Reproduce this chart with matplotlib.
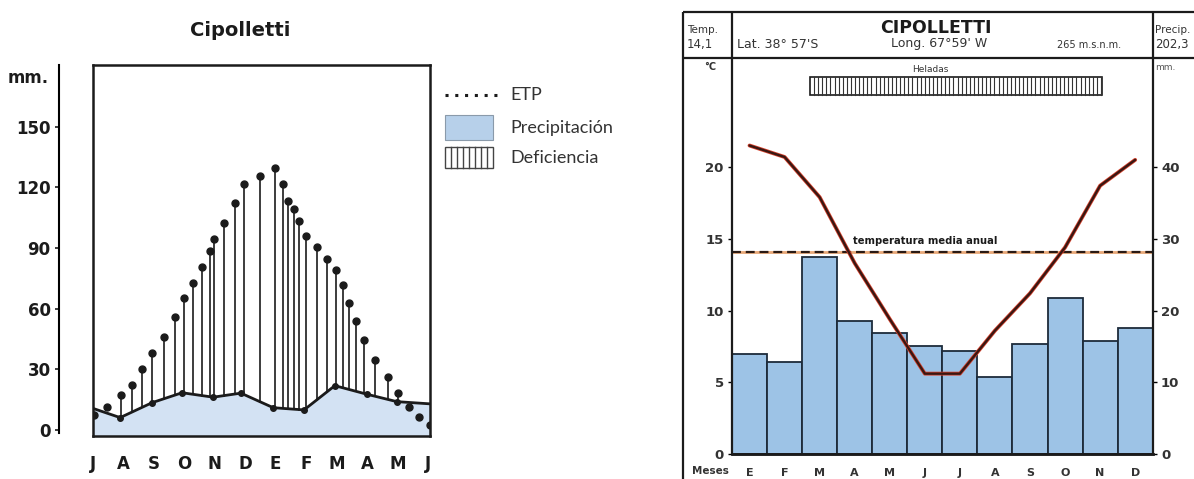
import matplotlib
matplotlib.use("Agg")
import matplotlib.pyplot as plt
from matplotlib.patches import Rectangle
import numpy as np

plt.rcParams.update({
    "font.family": ["DejaVu Sans"],
    "axes.linewidth": 1.5,
})

W, H = 1194, 479

# ---------------------------------------------------------------------------
# datos: balance hídrico (izquierda)
# ---------------------------------------------------------------------------
meses_jul = ["J", "A", "S", "O", "N", "D", "E", "F", "M", "A", "M", "J"]
etp_x = [0.04, 0.46, 0.92, 1.28, 1.63, 1.93, 2.34, 2.70, 2.99, 3.30, 3.59, 3.85,
         3.98, 4.31, 4.67, 4.96, 5.49, 5.98, 6.23, 6.41, 6.60, 6.77, 6.99, 7.34,
         7.69, 7.97, 8.20, 8.41, 8.62, 8.90, 9.26, 9.67, 10.02, 10.37, 10.70, 11.06]
etp_mm = [7.4, 11.2, 17.3, 22.3, 30.0, 38.2, 45.8, 55.7, 65.4, 72.9, 80.8, 88.7,
          94.3, 102.5, 112.1, 121.5, 125.6, 129.4, 121.5, 113.3, 109.2, 103.4, 95.9, 90.4,
          84.6, 79.1, 71.7, 63.0, 53.9, 44.5, 34.6, 26.4, 18.5, 11.5, 6.6, 2.5]
prec_x = [0, 0.9, 1.95, 2.93, 3.95, 4.86, 5.92, 6.93, 7.94, 8.98, 9.97, 11.06]
prec_mm = [10.7, 6.1, 13.5, 18.4, 16.2, 18.2, 11.0, 9.9, 21.9, 17.7, 14.0, 12.9]

# ---------------------------------------------------------------------------
# datos: climograma (derecha)
# ---------------------------------------------------------------------------
meses_ene = ["E", "F", "M", "A", "M", "J", "J", "A", "S", "O", "N", "D"]
precip_mes = [14.0, 12.8, 27.4, 18.5, 16.9, 15.1, 14.3, 10.7, 15.3, 21.8, 15.8, 17.5]
temp_mes = [21.5, 20.7, 17.9, 13.3, 9.4, 5.6, 5.6, 8.6, 11.2, 14.4, 18.7, 20.5]
temp_media = 14.1
precip_total = 202.3

BAR_BLUE = "#9dc3e6"
FILL_BLUE = "#d3e2f3"
INK = "#1b1b1b"
GREY_TXT = "#333333"


def fx(px):
    return px / W


def fy(py):
    return 1 - py / H


fig = plt.figure(figsize=(W / 100, H / 100), dpi=100)

# ---- panel izquierdo ----
ax_l = fig.add_axes([fx(92.7), fy(436), (430 - 92.7) / W, (436 - 65) / H])
ax_l.set_xlim(0, 11.06)
ax_l.set_ylim(-3, 180.5)
ax_l.fill_between(prec_x, -3, prec_mm, color=FILL_BLUE, lw=0, zorder=1)
ax_l.plot(prec_x, prec_mm, color=INK, lw=2, zorder=3)
ax_l.plot(prec_x[1:-1], prec_mm[1:-1], "o", color=INK, ms=4, zorder=3)

p_at_etp = np.interp(etp_x, prec_x, prec_mm)
for xe, ye, yp in zip(etp_x, etp_mm, p_at_etp):
    if ye - yp > 3:
        ax_l.plot([xe, xe], [yp, ye], color=INK, lw=1.2, zorder=2)
ax_l.plot(etp_x, etp_mm, "o", color=INK, ms=5, zorder=4)

ax_l.set_yticks([])
ax_l.set_xticks(range(12))
ax_l.set_xticklabels(meses_jul, fontsize=12, fontweight="bold", color=INK)
ax_l.tick_params(axis="x", length=0, pad=14)
ax_l.set_xticks(range(1, 11), minor=True)
ax_l.tick_params(axis="x", which="minor", length=5, width=1.5, direction="out", color=INK)
for sp in ax_l.spines.values():
    sp.set_linewidth(1.8)
    sp.set_color(INK)

# eje y separado
ax_ly = fig.add_axes([fx(59), fy(433), 0.0005, (433 - 65) / H])
ax_ly.set_ylim(-1.5, 180.5)
ax_ly.set_xticks([])
ax_ly.set_yticks([0, 30, 60, 90, 120, 150])
ax_ly.set_yticklabels(["0", "30", "60", "90", "120", "150"], fontsize=12,
                      fontweight="bold", color=INK)
ax_ly.tick_params(axis="y", length=3, width=1.2, pad=3, color=INK)
for k in ["top", "right", "bottom"]:
    ax_ly.spines[k].set_visible(False)
ax_ly.spines["left"].set_linewidth(1.5)
ax_ly.patch.set_visible(False)

# ---- panel derecho ----
ax_r = fig.add_axes([fx(732), fy(454), (1152.7 - 732) / W, (454 - 58) / H])
ax_p = ax_r.twinx()
ax_r.set_zorder(ax_p.get_zorder() + 1)
ax_r.patch.set_visible(False)

ax_r.set_xlim(-0.5, 11.5)
ax_r.set_ylim(0, 27.6)
ax_p.set_ylim(0, 55.2)

x_m = np.arange(len(meses_ene))
ax_p.bar(x_m, precip_mes, width=1.0, color=BAR_BLUE, edgecolor="#1d2b3a", linewidth=1.3)

ax_r.axhline(temp_media, color="#e8a878", lw=2.0, zorder=2)
ax_r.axhline(temp_media, color="#2a1a14", lw=1.6, dashes=(4, 2.2), zorder=3)
ax_r.text(5.0, temp_media + 0.75, "temperatura media anual", ha="center", va="center",
          fontsize=7.2, fontweight="bold", color=INK)
ax_r.plot(x_m, temp_mes, color="#d8432e", lw=2.8, zorder=4, solid_capstyle="round")
ax_r.plot(x_m, temp_mes, color="#3a1712", lw=1.7, zorder=5, solid_capstyle="round")

ax_r.set_yticks([0, 5, 10, 15, 20])
ax_r.set_yticklabels(["0", "5", "10", "15", "20"], fontsize=9.5, fontweight="bold",
                     color=GREY_TXT)
ax_r.tick_params(axis="y", length=3, width=1, pad=3, direction="out")
ax_r.set_xticks(x_m)
ax_r.set_xticklabels(meses_ene, fontsize=8, fontweight="bold", color=GREY_TXT)
ax_r.tick_params(axis="x", length=0, pad=10)
ax_p.set_yticks([0, 10, 20, 30, 40])
ax_p.set_yticklabels(["0", "10", "20", "30", "40"], fontsize=9.5, fontweight="bold",
                     color=GREY_TXT)
ax_p.tick_params(axis="y", length=3, width=1, pad=3, direction="out")
for a in (ax_r, ax_p):
    for k in ["top", "left", "right"]:
        a.spines[k].set_visible(False)
    a.spines["bottom"].set_linewidth(1.8)
    a.spines["bottom"].set_color(INK)

# ---- capa de anotaciones (coordenadas en píxeles) ----
ax_o = fig.add_axes([0, 0, 1, 1], zorder=10)
ax_o.set_xlim(0, W)
ax_o.set_ylim(H, 0)
ax_o.axis("off")

ax_o.text(240, 30, "Cipolletti", ha="center", va="center", fontsize=14,
          fontweight="bold", color=INK)
ax_o.text(8, 78, "mm.", ha="left", va="center", fontsize=12, fontweight="bold", color=INK)

# leyenda
ax_o.plot([445, 497], [95, 95], ls=(0, (1, 2.2)), color=INK, lw=2.2)
ax_o.text(510, 95, "ETP", ha="left", va="center", fontsize=13, family="Lato", color=GREY_TXT)
ax_o.add_patch(Rectangle((445, 115), 48, 25, facecolor="#b7d0ea", edgecolor="#8a9aaa", lw=0.8))
ax_o.text(510, 128, "Precipitación", ha="left", va="center", fontsize=13, family="Lato",
          color=GREY_TXT)
ax_o.add_patch(Rectangle((445, 147), 48, 21, facecolor="white", edgecolor="#444444", lw=1))
for xv in np.linspace(445, 493, 9)[1:-1]:
    ax_o.plot([xv, xv], [147, 168], color="#444444", lw=1)
ax_o.text(510, 158, "Deficiencia", ha="left", va="center", fontsize=13, family="Lato",
          color=GREY_TXT)

# marco del climograma
lk = dict(color=INK, lw=1.6, solid_capstyle="butt")
ax_o.plot([683, 683], [12, 479], **lk)
ax_o.plot([683, 1194], [12, 12], **lk)
ax_o.plot([683, 1194], [58, 58], **lk)
ax_o.plot([732, 732], [12, 454], **lk)
ax_o.plot([1152.7, 1152.7], [12, 454], **lk)

ax_o.text(687, 30, "Temp.", ha="left", va="center", fontsize=7.5, color=GREY_TXT)
ax_o.text(687, 44, f"{temp_media:.1f}".replace(".", ","), ha="left", va="center",
          fontsize=8.5, color=GREY_TXT)
ax_o.text(936, 28, "CIPOLLETTI", ha="center", va="center", fontsize=12.5,
          fontweight="bold", color=INK)
ax_o.text(737, 44, "Lat. 38° 57'S", ha="left", va="center", fontsize=9, color=GREY_TXT)
ax_o.text(939, 43, "Long. 67°59' W", ha="center", va="center", fontsize=9, color=GREY_TXT)
ax_o.text(1057, 45, "265 m.s.n.m.", ha="left", va="center", fontsize=7, color=GREY_TXT)
ax_o.text(1155, 30, "Precip.", ha="left", va="center", fontsize=7.5, color=GREY_TXT)
ax_o.text(1155, 44, f"{precip_total:.1f}".replace(".", ","), ha="left", va="center",
          fontsize=8.5, color=GREY_TXT)
ax_o.text(710, 67, "°C", ha="center", va="center", fontsize=7, fontweight="bold",
          color=GREY_TXT)
ax_o.text(1155, 67, "mm.", ha="left", va="center", fontsize=6.5, color="#555555")
ax_o.text(692, 471, "Meses", ha="left", va="center", fontsize=7.5, fontweight="bold",
          color=GREY_TXT)

# heladas
ax_o.text(930, 69, "Heladas", ha="center", va="center", fontsize=6.5, color=GREY_TXT)
ax_o.add_patch(Rectangle((810, 77), 292, 18, facecolor="white", edgecolor=INK, lw=1.2))
for xv in np.arange(814, 1102, 4.1):
    ax_o.plot([xv, xv], [77, 95], color="#333333", lw=0.8)

fig.savefig("out.png", dpi=100)
